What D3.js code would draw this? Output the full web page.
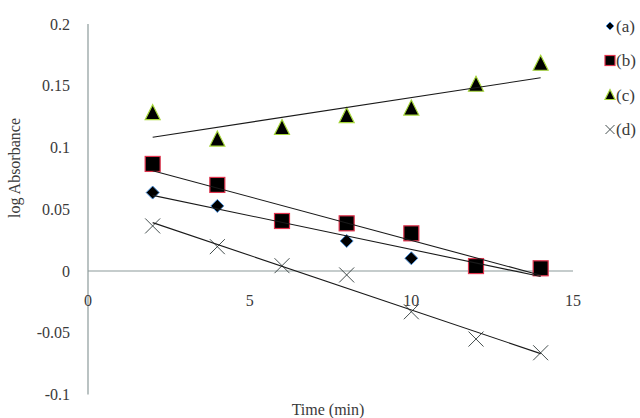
<!DOCTYPE html>
<html><head><meta charset="utf-8">
<script src="https://cdn.jsdelivr.net/npm/d3@7"></script>
<style>body{margin:0;background:#fff}svg{display:block}text{font-family:"Liberation Serif","Times New Roman",serif;fill:#3a3a3a}</style>
</head><body>
<script>
const times = [2, 4, 6, 8, 10, 12, 14];
const seriesA = [0.0635, 0.0527, 0.040, 0.0243, 0.0103, 0.005, 0.003];
const seriesB = [0.0867, 0.0697, 0.0405, 0.0386, 0.0305, 0.004, 0.0022];
const seriesC = [0.128, 0.1066, 0.116, 0.1256, 0.1317, 0.151, 0.168];
const seriesD = [0.0365, 0.0197, 0.0043, -0.0032, -0.033, -0.0551, -0.0662];
const seriesNames = ["(a)", "(b)", "(c)", "(d)"];
const xTicks = [0, 5, 10, 15];
const yTicks = [-0.1, -0.05, 0, 0.05, 0.1, 0.15, 0.2];
const yTickLabels = ["-0.1", "-0.05", "0", "0.05", "0.1", "0.15", "0.2"];

const W = 640, H = 418;
const svg = d3.select("body").append("svg").attr("width", W).attr("height", H);
const x = d3.scaleLinear().domain([0, 15]).range([88, 573]);
const y = d3.scaleLinear().domain([-0.1, 0.2]).range([394.5, 24]);

const axisColor = "#8c9a9a";
svg.append("line").attr("x1", x(0)).attr("x2", x(0)).attr("y1", y(0.2)).attr("y2", y(-0.1))
  .attr("stroke", axisColor).attr("stroke-width", 1.2);
svg.append("line").attr("x1", x(0)).attr("x2", x(15)).attr("y1", y(0)).attr("y2", y(0))
  .attr("stroke", axisColor).attr("stroke-width", 1.2);

svg.selectAll(".yt").data(yTicks).enter().append("text")
  .attr("x", 70).attr("y", d => y(d)).attr("dy", "0.35em")
  .attr("text-anchor", "end").attr("font-size", 16)
  .text((d, i) => yTickLabels[i]);
svg.selectAll(".xt").data(xTicks).enter().append("text")
  .attr("x", d => x(d)).attr("y", y(0) + 29).attr("dy", "0.35em")
  .attr("text-anchor", "middle").attr("font-size", 16)
  .text(d => d);

svg.append("text").attr("transform", "translate(20,168) rotate(-90)")
  .attr("text-anchor", "middle").attr("font-size", 16).text("log Absorbance");
svg.append("text").attr("x", 328).attr("y", 409).attr("dy", "0.35em")
  .attr("text-anchor", "middle").attr("font-size", 16).text("Time (min)");

const series = [
  {name: seriesNames[0], vals: seriesA, type: "diamond"},
  {name: seriesNames[1], vals: seriesB, type: "square"},
  {name: seriesNames[2], vals: seriesC, type: "triangle"},
  {name: seriesNames[3], vals: seriesD, type: "cross"}
];

function drawMarker(g, type, cx, cy, s) {
  if (type === "diamond") {
    const r = s / 2;
    g.append("path").attr("d", `M${cx},${cy - r}L${cx + r},${cy}L${cx},${cy + r}L${cx - r},${cy}Z`)
      .attr("fill", "#000").attr("stroke", "#4a8fd8").attr("stroke-width", 1);
  } else if (type === "square") {
    g.append("rect").attr("x", cx - s / 2).attr("y", cy - s / 2).attr("width", s).attr("height", s)
      .attr("fill", "#000").attr("stroke", "#e0344e").attr("stroke-width", 1.2);
  } else if (type === "triangle") {
    const h = s;
    g.append("path").attr("d", `M${cx},${cy - h * 0.55}L${cx + s / 2},${cy + h * 0.45}L${cx - s / 2},${cy + h * 0.45}Z`)
      .attr("fill", "#000").attr("stroke", "#a6d63a").attr("stroke-width", 1.2);
  } else {
    const r = s / 2;
    g.append("path").attr("d", `M${cx - r},${cy - r}L${cx + r},${cy + r}M${cx + r},${cy - r}L${cx - r},${cy + r}`)
      .attr("stroke", "#2f3a3a").attr("stroke-width", 0.9).attr("fill", "none");
  }
}

const sizes = {diamond: 13, square: 15, triangle: 15, cross: 15};
const marks = svg.append("g");
series.forEach(s => {
  s.vals.forEach((v, i) => drawMarker(marks, s.type, x(times[i]), y(v), sizes[s.type]));
});

const lines = svg.append("g");
series.forEach(s => {
  const mx = d3.mean(times), my = d3.mean(s.vals);
  const slope = d3.sum(times, (t, i) => (t - mx) * (s.vals[i] - my)) / d3.sum(times, t => (t - mx) ** 2);
  const b = my - slope * mx;
  const t0 = times[0], t1 = times[times.length - 1];
  lines.append("line").attr("x1", x(t0)).attr("y1", y(slope * t0 + b))
    .attr("x2", x(t1)).attr("y2", y(slope * t1 + b))
    .attr("stroke", "#1a1a1a").attr("stroke-width", 1.1);
});

const legSizes = {diamond: 8, square: 10, triangle: 10, cross: 9};
const leg = svg.append("g");
series.forEach((s, i) => {
  const ly = 26 + i * 34.5;
  drawMarker(leg, s.type, 610, ly, legSizes[s.type]);
  leg.append("text").attr("x", 616).attr("y", ly).attr("dy", "0.35em")
    .attr("font-size", 17).text(s.name);
});
</script>
</body></html>
